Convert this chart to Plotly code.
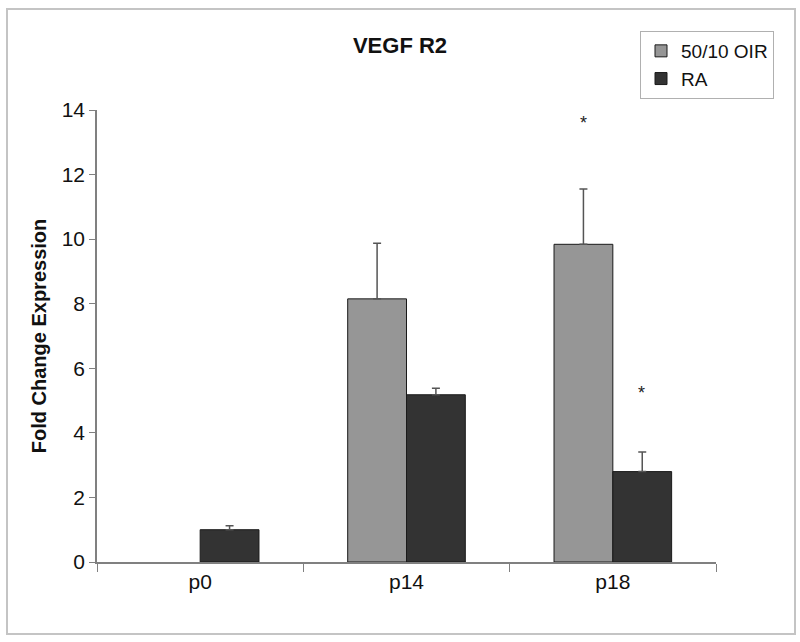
import plotly.graph_objects as go

categories = ["p0", "p14", "p18"]
oir_values = [None, 8.15, 9.84]
oir_err = [None, 1.72, 1.71]
ra_values = [1.0, 5.18, 2.80]
ra_err = [0.12, 0.2, 0.61]
series_names = ["50/10 OIR", "RA"]
star_oir = [None, None, 13.6]
star_ra = [None, None, 5.25]
y_ticks = [0, 2, 4, 6, 8, 10, 12, 14]

L, R, T, B = 97, 84, 110, 80
W, H = 800, 642
pw, ph = W - L - R, H - T - B
FONT = "Liberation Sans, Arial, Helvetica"

fig = go.Figure()
fig.add_trace(go.Bar(
    x=categories, y=oir_values, name=series_names[0],
    marker=dict(color="#969696", line=dict(color="#1a1a1a", width=1)),
    error_y=dict(type="data", array=oir_err, symmetric=False,
                 arrayminus=[0 for _ in oir_err],
                 color="#555555", thickness=1.5, width=4),
))
fig.add_trace(go.Bar(
    x=categories, y=ra_values, name=series_names[1],
    marker=dict(color="#333333", line=dict(color="#1a1a1a", width=1)),
    error_y=dict(type="data", array=ra_err, symmetric=False,
                 arrayminus=[0 for _ in ra_err],
                 color="#555555", thickness=1.5, width=4),
))

for ys, shift in [(star_oir, -29), (star_ra, 29)]:
    for c, v in zip(categories, ys):
        if v is not None:
            fig.add_annotation(x=c, y=v, text="*", showarrow=False, xshift=shift,
                               font=dict(family=FONT, size=18, color="#222"))

fig.add_shape(type="rect", xref="paper", yref="paper",
              x0=(7 - L) / pw, x1=(795 - L) / pw,
              y0=(H - B - 634) / ph, y1=(H - B - 9) / ph,
              line=dict(color="#c4c4c4", width=2), layer="below")

fig.update_layout(
    width=W, height=H,
    margin=dict(l=L, r=R, t=T, b=B, autoexpand=False),
    paper_bgcolor="white", plot_bgcolor="white",
    barmode="group", bargap=0.43, bargroupgap=0,
    font=dict(family=FONT, color="#111"),
    title=dict(text="<b>VEGF R2</b>", x=(400 - L) / pw, xref="paper", xanchor="center",
               y=1 - 45 / H, yanchor="middle",
               font=dict(size=22, color="#111")),
    legend=dict(x=(640 - L) / pw, y=(H - B - 31) / ph, xanchor="left", yanchor="top",
                bordercolor="#b0b0b0", borderwidth=1, bgcolor="white",
                font=dict(size=19, color="#111"), tracegroupgap=0,
                itemwidth=30),
    showlegend=True,
)
fig.update_xaxes(
    type="category", showline=True, linecolor="#808080", linewidth=1.5,
    ticks="outside", tickson="boundaries", ticklen=8, tickcolor="#808080",
    tickfont=dict(size=21, color="#111"), showgrid=False, zeroline=False,
    mirror=False,
)
fig.update_yaxes(
    range=[0, 14], tickvals=y_ticks, showline=True, linecolor="#808080", linewidth=1.5,
    ticks="outside", ticklen=6, tickcolor="#808080",
    tickfont=dict(size=21, color="#111"), showgrid=False, zeroline=False,
    title=dict(text="<b>Fold Change Expression</b>", font=dict(size=20, color="#111"), standoff=10),
)

fig.write_html("out.html", config={"displayModeBar": False},
               post_script="document.body.style.margin='0';")
